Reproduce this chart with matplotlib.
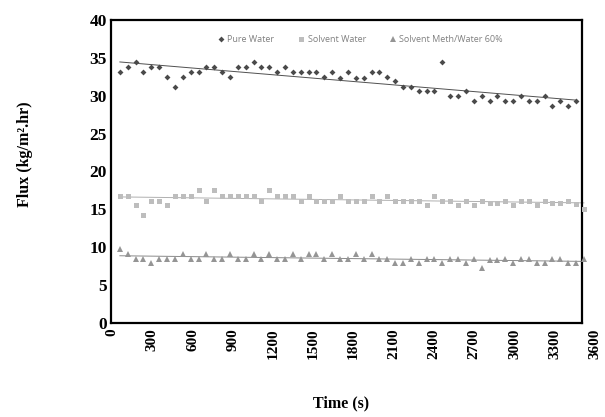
import numpy as np
import matplotlib.pyplot as plt
from matplotlib.lines import Line2D

# sampling interval of the readings (s)
pas = 58.6
timp = pas * np.arange(1, 61)

pure_water = [33.1, 33.8, 34.4, 33.1, 33.8, 33.8, 32.5, 31.2, 32.5, 33.2,
              33.2, 33.8, 33.8, 33.2, 32.5, 33.8, 33.8, 34.4, 33.8, 33.8,
              33.1, 33.8, 33.1, 33.1, 33.1, 33.1, 32.5, 33.1, 32.4, 33.2,
              32.4, 32.4, 33.2, 33.2, 32.5, 31.9, 31.2, 31.2, 30.6, 30.6,
              30.6, 34.4, 30.0, 30.0, 30.6, 29.3, 30.0, 29.3, 30.0, 29.3,
              29.3, 30.0, 29.3, 29.3, 30.0, 28.7, 29.3, 28.7, 29.3]

solvent_water = [16.8, 16.8, 15.6, 14.2, 16.1, 16.1, 15.6, 16.8, 16.8, 16.8,
                 17.5, 16.1, 17.5, 16.8, 16.8, 16.8, 16.8, 16.8, 16.1, 17.5,
                 16.8, 16.8, 16.8, 16.1, 16.8, 16.1, 16.1, 16.1, 16.8, 16.1,
                 16.1, 16.1, 16.8, 16.1, 16.8, 16.1, 16.1, 16.1, 16.1, 15.6,
                 16.8, 16.1, 16.1, 15.6, 16.1, 15.6, 16.1, 15.9, 15.9, 16.1,
                 15.6, 16.1, 16.1, 15.6, 16.1, 15.9, 15.9, 16.1, 15.7, 15.0]

meth_water = [9.8, 9.1, 8.5, 8.5, 7.9, 8.5, 8.5, 8.5, 9.1, 8.5,
              8.5, 9.1, 8.5, 8.5, 9.1, 8.5, 8.5, 9.1, 8.5, 9.1,
              8.5, 8.5, 9.1, 8.5, 9.1, 9.1, 8.5, 9.1, 8.5, 8.5,
              9.1, 8.5, 9.1, 8.5, 8.5, 7.9, 7.9, 8.5, 7.9, 8.5,
              8.5, 7.9, 8.5, 8.5, 7.9, 8.5, 7.3, 8.3, 8.3, 8.5,
              7.9, 8.5, 8.5, 7.9, 7.9, 8.5, 8.5, 7.9, 7.9, 8.5]

serii = [
    ('Pure Water', pure_water, 'D', 3.0, '#4a4a4a', '#505050'),
    ('Solvent Water', solvent_water, 's', 3.6, '#bdbdbd', '#b0b0b0'),
    ('Solvent Meth/Water 60%', meth_water, '^', 3.8, '#959595', '#8a8a8a'),
]

fig = plt.figure(figsize=(6.05, 4.17), dpi=100)
ax = fig.add_axes([111 / 605, 94 / 417, 485.5 / 605, 303 / 417])

handles = []
for nume, y, m, ms, c, cl in serii:
    t = timp[:len(y)]
    ax.plot(t, y, linestyle='none', marker=m, markersize=ms, color=c,
            markeredgewidth=0, clip_on=False, zorder=3)
    # linie de tendinta liniara
    a, b = np.polyfit(t, y, 1)
    ax.plot([t[0], t[-1]], [a * t[0] + b, a * t[-1] + b], color=cl, linewidth=0.7, zorder=2)
    handles.append(Line2D([], [], linestyle='none', marker=m, markersize=ms,
                          color=c, markeredgewidth=0, label=nume))

x_dreapta = 3502
ax.set_xlim(-7.5, 3610)
ax.set_ylim(0, 40)
ax.spines['right'].set_position(('data', x_dreapta))
ax.spines['top'].set_bounds(-7.5, x_dreapta)
ax.spines['bottom'].set_bounds(-7.5, x_dreapta)
for s in ax.spines.values():
    s.set_linewidth(1.6)
    s.set_color('black')

ax.set_xticks(np.arange(0, 3601, 300))
ax.set_yticks(np.arange(0, 41, 5))
ax.tick_params(length=0)
ax.tick_params(axis='x', pad=4)
ax.tick_params(axis='y', pad=3)
for lbl in ax.get_xticklabels():
    lbl.set_rotation(90)
    lbl.set_fontfamily('Liberation Serif')
    lbl.set_fontweight('bold')
    lbl.set_fontsize(11)
for lbl in ax.get_yticklabels():
    lbl.set_fontfamily('Liberation Serif')
    lbl.set_fontweight('bold')
    lbl.set_fontsize(12.5)

fig.text(25 / 605, 1 - 154 / 417, 'Flux (kg/m\u00b2.hr)', rotation=90,
         ha='center', va='center', fontfamily='Liberation Serif', fontweight='bold', fontsize=11.5)
fig.text(341 / 605, 1 - 403 / 417, 'Time (s)', ha='center', va='center',
         fontfamily='Liberation Serif', fontweight='bold', fontsize=11.5)

leg = ax.legend(handles=handles, loc='center', ncol=3, frameon=False,
                bbox_to_anchor=(360 / 605, 1 - 40 / 417), bbox_transform=fig.transFigure,
                prop={'family': 'Open Sans', 'size': 6.5}, handlelength=0.8,
                handletextpad=0.3, columnspacing=2.6)
for txt in leg.get_texts():
    txt.set_color('#808080')

plt.savefig('out.png', dpi=100)
